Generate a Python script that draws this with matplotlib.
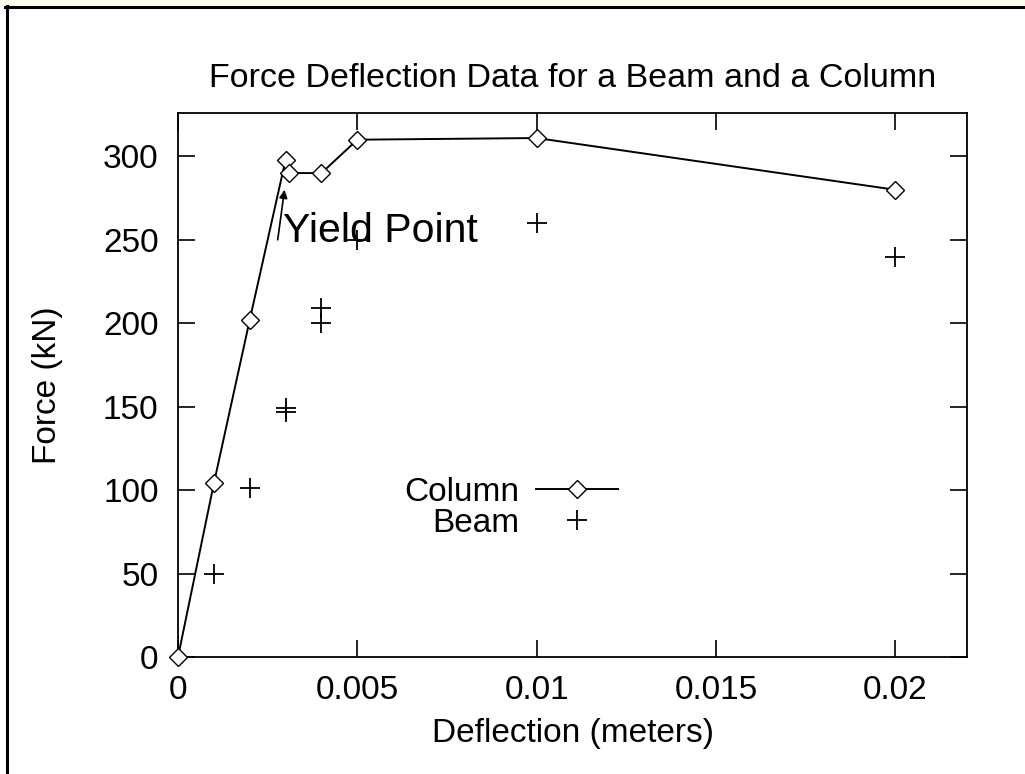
import matplotlib
matplotlib.use("Agg")
import matplotlib.pyplot as plt
from matplotlib.patches import Rectangle
from matplotlib.lines import Line2D

plt.rcParams['font.family'] = ['Liberation Sans', 'DejaVu Sans']

column_x = [0.0, 0.001, 0.002, 0.003, 0.0031, 0.004, 0.005, 0.01, 0.02]
column_y = [0, 104, 202, 298, 290, 290, 310, 311, 280]
beam_x = [0.001, 0.002, 0.003, 0.003, 0.004, 0.004, 0.005, 0.01, 0.02]
beam_y = [50, 101, 147, 149, 200, 209, 250, 260, 240]
x_ticks = [0, 0.005, 0.01, 0.015, 0.02]
x_tick_labels = ["0", "0.005", "0.01", "0.015", "0.02"]
y_ticks = [0, 50, 100, 150, 200, 250, 300]

W, H = 1025, 774
FS = 24
fig = plt.figure(figsize=(W/100, H/100), dpi=100)
# pale strip at top and frame lines (top and left only)
fig.patches.append(Rectangle((0, 1-6/H), 1, 6/H, transform=fig.transFigure,
                             facecolor='#fffff0', edgecolor='none'))
fig.lines.append(Line2D([5/W, 1], [1-7/H, 1-7/H], transform=fig.transFigure,
                        color='black', linewidth=2.2))
fig.lines.append(Line2D([6.5/W, 6.5/W], [0, 1-6/H], transform=fig.transFigure,
                        color='black', linewidth=2.2))

ax = fig.add_axes([178/W, 1-657/H, (967-178)/W, (657-113)/H])

ax.plot(column_x, column_y, color='black', linewidth=1.4, marker='D', markersize=9,
        markerfacecolor='white', markeredgecolor='black', markeredgewidth=1.0,
        label='Column', clip_on=False, zorder=3)
ax.plot(beam_x, beam_y, linestyle='none', color='black', marker='+', markersize=14,
        markeredgewidth=1.3, label='Beam')

ax.annotate('', xy=(0.00297, 280), xytext=(0.00278, 250),
            arrowprops=dict(arrowstyle='-|>', color='black', lw=1.2,
                            shrinkA=0, shrinkB=0, mutation_scale=12))
ax.text(0.00292, 255, 'Yield Point', fontsize=29.5, va='center', ha='left')

ax.set_xlim(0, 0.022)
ax.set_ylim(0, 326)
ax.set_xticks(x_ticks)
ax.set_xticklabels(x_tick_labels)
ax.set_yticks(y_ticks)
ax.tick_params(axis='both', direction='in', length=12, width=1.2, top=True, right=True,
               labelsize=FS)
ax.tick_params(axis='x', pad=13)
ax.tick_params(axis='y', pad=14)
for s in ax.spines.values():
    s.set_linewidth(1.3)

ax.set_title('Force Deflection Data for a Beam and a Column', fontsize=24.5, pad=19)
ax.set_xlabel('Deflection (meters)', fontsize=FS, labelpad=8.5)
ax.set_ylabel('Force (kN)', fontsize=FS, labelpad=29)

leg = ax.legend(loc='center', bbox_to_anchor=((511-178)/789, 1-(508-113)/544),
                markerfirst=False, frameon=False, fontsize=FS, handlelength=2.45,
                handletextpad=0.5, labelspacing=0.0, borderpad=0)
for t in leg.get_texts():
    t.set_ha('right')

fig.savefig('out.png', dpi=100)
